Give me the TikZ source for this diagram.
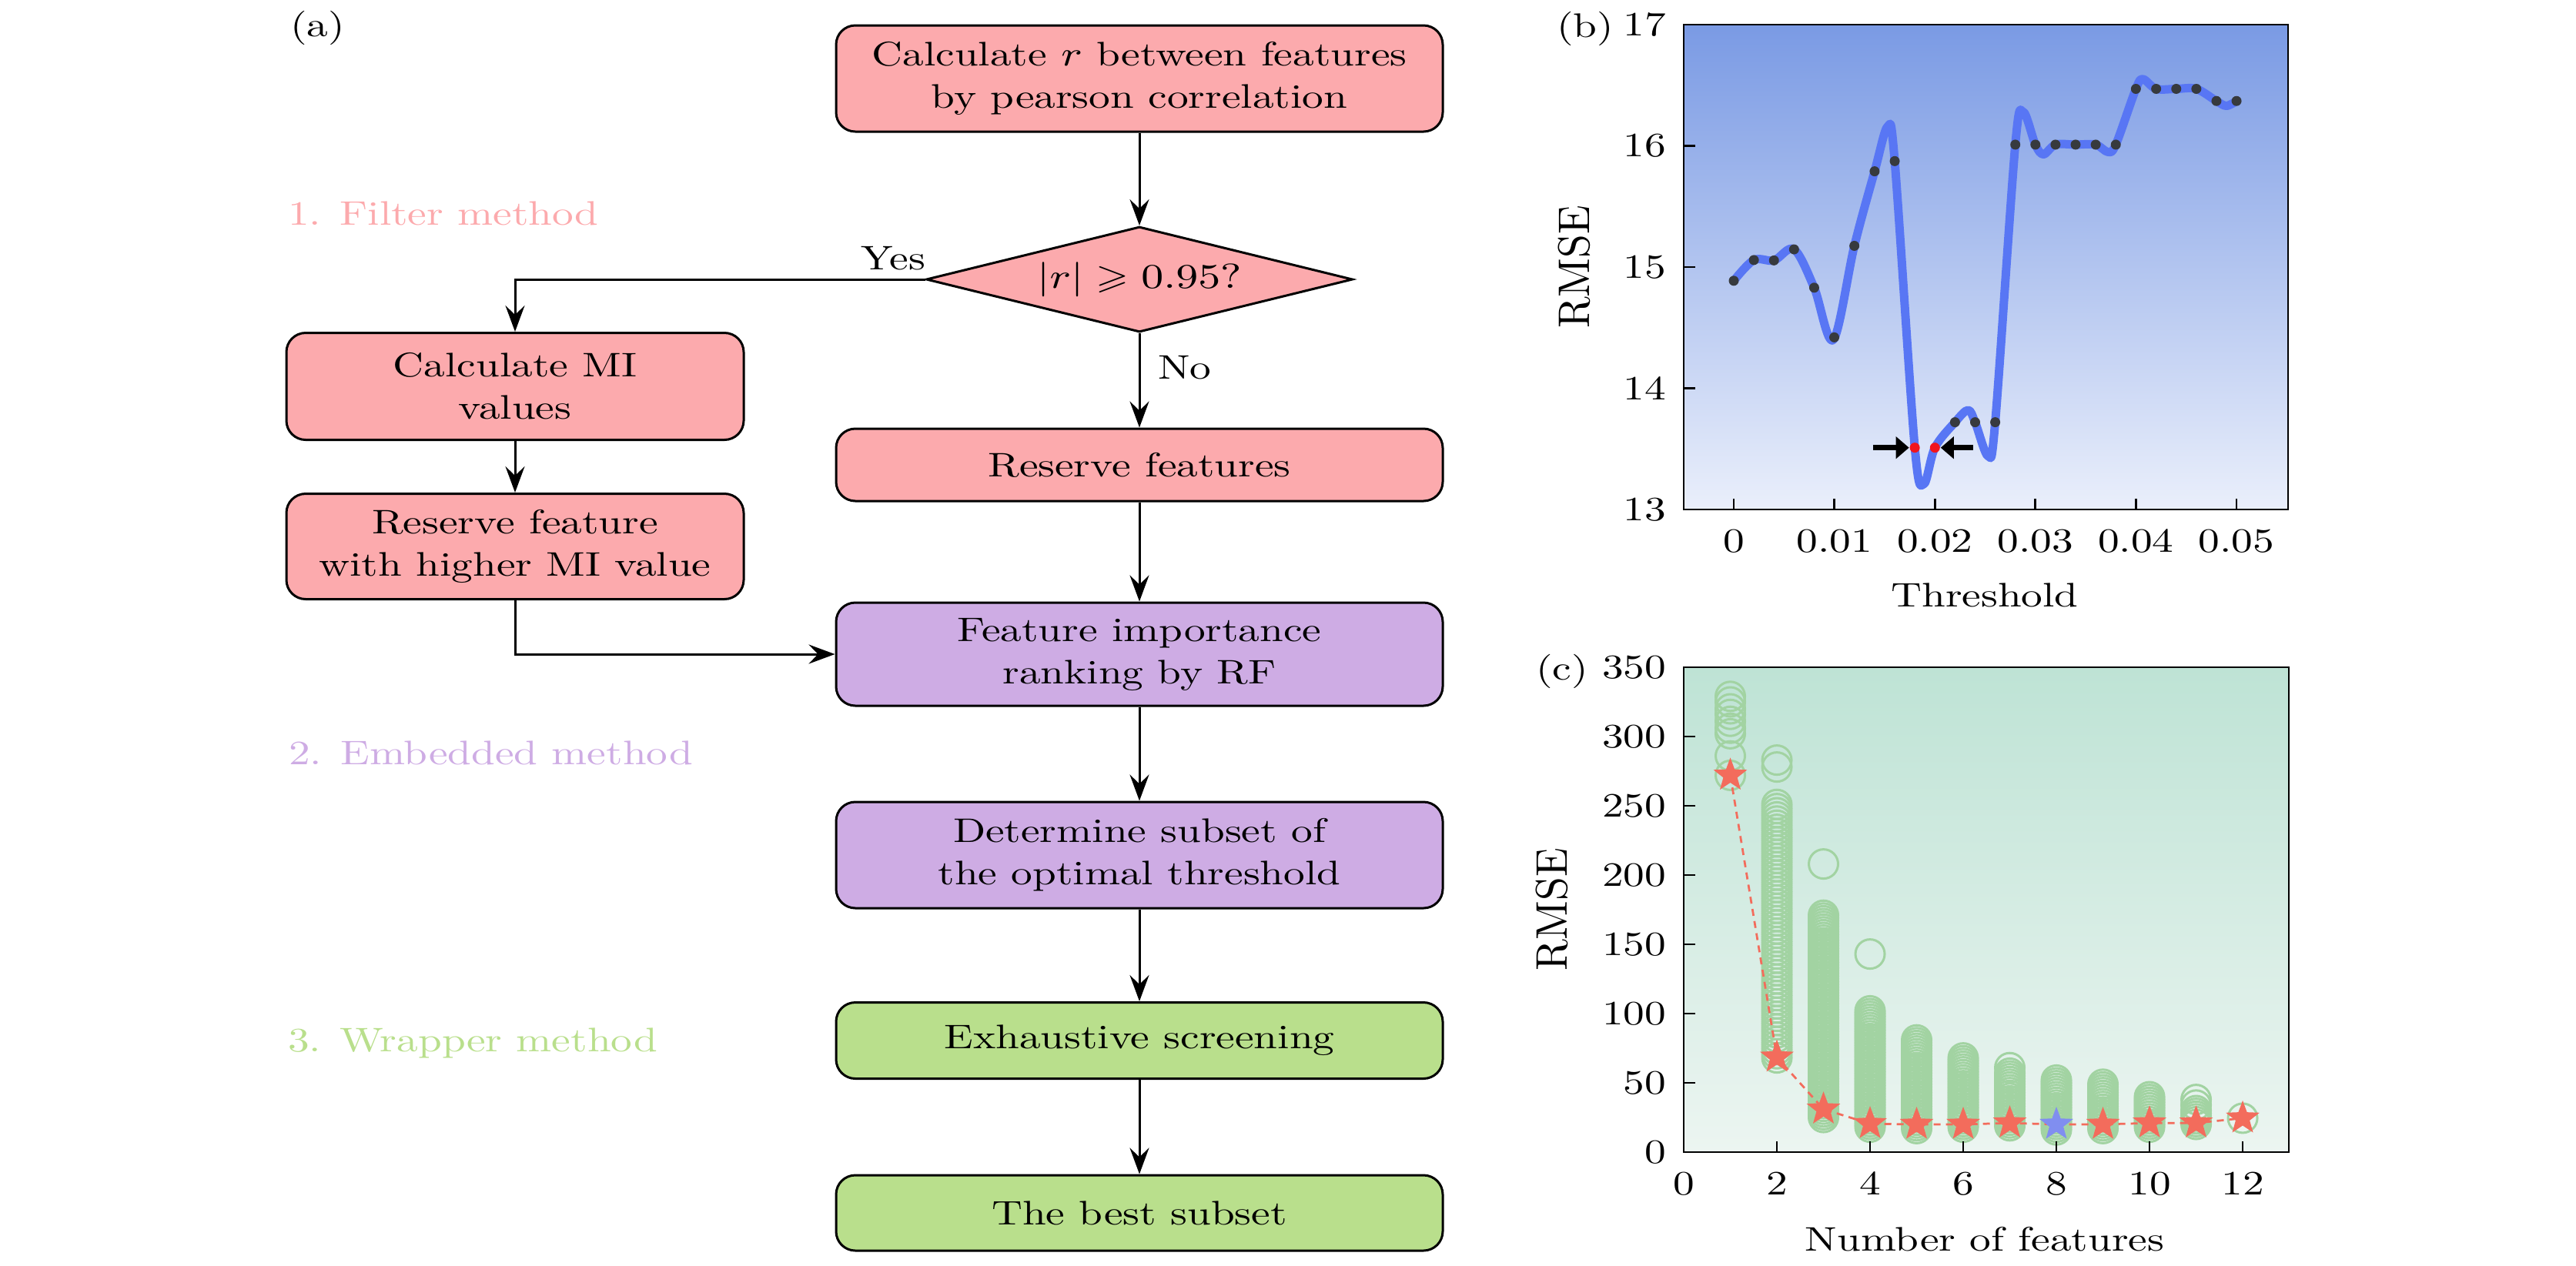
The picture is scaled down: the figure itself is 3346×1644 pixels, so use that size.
\documentclass[tikz,border=0pt]{standalone}
\usepackage{amssymb}
\usepackage[no-math]{fontspec}
\setmainfont{lmroman10}[Extension=.otf, UprightFont=*-regular, ItalicFont=*-italic, BoldFont=*-bold, FakeStretch=1.25]
\usepackage{graphicx}
\usetikzlibrary{shapes.geometric, arrows.meta}
\newcommand{\strm}[1]{\scalebox{1.25}[1]{$#1$}}
\definecolor{pinkc}{RGB}{252,170,173}
\definecolor{purpc}{RGB}{206,172,228}
\definecolor{greenc}{RGB}{185,223,140}
\definecolor{bTop}{RGB}{122,154,228}
\definecolor{bBot}{RGB}{234,239,251}
\definecolor{cTop}{RGB}{190,227,213}
\definecolor{cBot}{RGB}{236,245,241}
\definecolor{curvec}{RGB}{88,118,244}
\definecolor{dotc}{RGB}{55,58,62}
\definecolor{redd}{RGB}{240,20,30}
\definecolor{circc}{RGB}{162,211,162}
\definecolor{starr}{RGB}{243,108,92}
\definecolor{starb}{RGB}{128,142,240}
\begin{document}
\begin{tikzpicture}[x=0.2pt, y=-0.2pt, font=\fontsize{8.85pt}{11pt}\selectfont,
  box/.style={draw, line width=0.6pt, rounded corners=5pt, align=center, inner sep=1pt},
  wide/.style={box, minimum width=157.6pt},
  narrow/.style={box, minimum width=118.8pt},
  arr/.style={line width=0.6pt, -{Stealth[length=6.8pt, width=5pt, inset=2.4pt]}},
  lbl/.style={inner sep=0pt},
  frame/.style={line width=0.55pt},
  tick/.style={line width=0.55pt},
  curve/.style={line width=2.2pt, curvec, line cap=round, line join=round},
  circ/.style={circc, line width=0.6pt},
  redline/.style={starr, line width=0.55pt, dash pattern=on 1.8pt off 1.4pt},
  starmark/.style={star, star points=5, star point ratio=2.4, minimum size=9.2pt, inner sep=0pt, draw=none},
  barrow/.style={line width=1.4pt, -{Triangle[length=3.4pt, width=5.6pt]}}
]
\useasboundingbox (0,0) rectangle (3346,1644);

% ---------------- (a) flowchart ----------------
\node[lbl, anchor=base west] (la) at (376,47) {(a)};
\node[wide, fill=pinkc, minimum height=27.6pt] (b1) at (1480,102) {Calculate \strm{r} between features\\by pearson correlation};
\node[diamond, aspect=4.04, draw, line width=0.6pt, fill=pinkc, minimum width=110.8pt, minimum height=27.4pt, inner sep=0pt] (dia) at (1480,363) {\strm{|r| \geqslant 0.95?}};
\node[wide, fill=pinkc, minimum height=18.8pt] (rf) at (1480,604) {Reserve features};
\node[narrow, fill=pinkc, minimum height=27.8pt] (mi) at (669,502) {Calculate MI\\values};
\node[narrow, fill=pinkc, minimum height=27.4pt] (rmi) at (669,710) {Reserve feature\\with higher MI value};
\node[wide, fill=purpc, minimum height=26.8pt] (fi) at (1480,850) {Feature importance\\ranking by RF};
\node[wide, fill=purpc, minimum height=27.6pt] (det) at (1480,1111) {Determine subset of\\the optimal threshold};
\node[wide, fill=greenc, minimum height=19.8pt] (exh) at (1480,1352) {Exhaustive screening};
\node[wide, fill=greenc, minimum height=19.6pt] (best) at (1480,1576) {The best subset};

\draw[arr] (b1) -- (dia);
\draw[arr] (dia.west) -| (mi.north);
\draw[arr] (dia) -- (rf);
\draw[arr] (mi) -- (rmi);
\draw[arr] (rmi.south) |- (fi.west);
\draw[arr] (rf) -- (fi);
\draw[arr] (fi) -- (det);
\draw[arr] (det) -- (exh);
\draw[arr] (exh) -- (best);

\node[lbl, anchor=base east] (yes) at (1203,350) {Yes};
\node[lbl, anchor=base west] (no) at (1503,492) {No};
\node[lbl, anchor=base west, text=pinkc] (l1) at (373,292) {1. Filter method};
\node[lbl, anchor=base west, text=purpc] (l2) at (374,993) {2. Embedded method};
\node[lbl, anchor=base west, text=greenc] (l3) at (373,1366) {3. Wrapper method};

% ---------------- (b) threshold plot ----------------
\shade[top color=bTop, bottom color=bBot] (2187,32) rectangle (2972,662);
\begin{scope}[shift={(2252,662)}, x=2612pt, y=31.5pt]
  \draw[curve] plot[smooth, tension=0.55] coordinates {
    (0,1.887) (0.002,2.058) (0.004,2.055) (0.006,2.146) (0.008,1.83) (0.0099,1.40)
    (0.012,2.175) (0.014,2.79) (0.0153,3.16) (0.016,2.874) (0.018,0.51) (0.0189,0.21)
    (0.020,0.51) (0.022,0.72) (0.0233,0.82) (0.024,0.72) (0.0253,0.44) (0.026,0.72)
    (0.028,3.01) (0.0288,3.28) (0.030,3.01) (0.0308,2.93) (0.032,3.01) (0.034,3.01)
    (0.036,3.01) (0.0372,2.95) (0.038,3.01) (0.040,3.47) (0.0407,3.55) (0.042,3.47)
    (0.044,3.47) (0.046,3.47) (0.048,3.37) (0.049,3.33) (0.050,3.37)};
  \foreach \t/\v in {0/1.887, 0.002/2.058, 0.004/2.055, 0.006/2.146, 0.008/1.83, 0.010/1.42,
    0.012/2.175, 0.014/2.79, 0.016/2.874, 0.022/0.72, 0.024/0.72, 0.026/0.72,
    0.028/3.01, 0.030/3.01, 0.032/3.01, 0.034/3.01, 0.036/3.01, 0.038/3.01,
    0.040/3.47, 0.042/3.47, 0.044/3.47, 0.046/3.47, 0.048/3.37, 0.050/3.37}
    \fill[dotc] (\t,\v) circle[radius=1.3pt];
  \node[circle, fill=redd, inner sep=0pt, minimum size=2.6pt] (r1) at (0.018,0.51) {};
  \node[circle, fill=redd, inner sep=0pt, minimum size=2.6pt] (r2) at (0.020,0.51) {};
  \coordinate (ta) at (0.01386,0.51);
  \coordinate (tb) at (0.02381,0.51);
  \draw[barrow] (ta) -- (r1);
  \draw[barrow] (tb) -- (r2);
  % ticks and labels
  \foreach \v in {13,14,15,16,17} {
    \draw[tick] (-0.005,\v-13) -- ++(3pt,0pt);
    \node[lbl, anchor=east, xshift=-4.4pt] (by\v) at (-0.005,\v-13) {\v};
  }
  \foreach \t/\s in {0/0, 0.01/0.01, 0.02/0.02, 0.03/0.03, 0.04/0.04, 0.05/0.05} {
    \draw[tick] (\t,0) -- ++(0pt,2.8pt);
    \node[lbl, anchor=base, yshift=-11pt] (bx\s) at (\t,0) {\s};
  }
\end{scope}
\draw[frame] (2187,32) rectangle (2972,662);
\node[lbl, anchor=base west] (lb) at (2021,48) {(b)};
\node[lbl, rotate=90] (byl) at (2045,347) {\scalebox{1}[1.3]{RMSE}};
\node[lbl, anchor=base] (bxl) at (2578,788) {Threshold};

% ---------------- (c) number of features plot ----------------
\shade[top color=cTop, bottom color=cBot] (2187,867) rectangle (2973,1497);
\begin{scope}[shift={(2187,1497)}, x=12.1pt, y=0.36pt]
  \foreach \v in {272,286,302,306,311,316,320,325,329} \draw[circ] (1,\v) circle[radius=3.8pt];
  \foreach \v in {68,71,...,251,278,283} \draw[circ] (2,\v) circle[radius=3.8pt];
  \foreach \v in {25,27,...,172,208} \draw[circ] (3,\v) circle[radius=3.8pt];
  \foreach \v in {18,20,...,102,143} \draw[circ] (4,\v) circle[radius=3.8pt];
  \foreach \v in {17,19,...,81} \draw[circ] (5,\v) circle[radius=3.8pt];
  \foreach \v in {18,20,...,68} \draw[circ] (6,\v) circle[radius=3.8pt];
  \foreach \v in {19,21,...,57,61} \draw[circ] (7,\v) circle[radius=3.8pt];
  \foreach \v in {16,18,...,53} \draw[circ] (8,\v) circle[radius=3.8pt];
  \foreach \v in {17,19,...,49} \draw[circ] (9,\v) circle[radius=3.8pt];
  \foreach \v in {18,20,...,40} \draw[circ] (10,\v) circle[radius=3.8pt];
  \foreach \v in {20,22,...,28,30,34,38} \draw[circ] (11,\v) circle[radius=3.8pt];
  \draw[circ] (12,24.5) circle[radius=3.8pt];
  \coordinate (p1) at (1,272);
  \coordinate (p2) at (2,68.5);
  \coordinate (p3) at (3,31);
  \coordinate (p4) at (4,20.5);
  \coordinate (p5) at (5,20);
  \coordinate (p6) at (6,20);
  \coordinate (p7) at (7,21);
  \coordinate (p8) at (8,20);
  \coordinate (p9) at (9,20);
  \coordinate (p10) at (10,21);
  \coordinate (p11) at (11,21);
  \coordinate (p12) at (12,24.5);
  \draw[redline] (p1) -- (p2) -- (p3) -- (p4) -- (p5) -- (p6) -- (p7) -- (p8) -- (p9) -- (p10) -- (p11) -- (p12);
  \foreach \i in {1,2,3,4,5,6,7,9,10,11,12} \node[starmark, fill=starr] (s\i) at (p\i) {};
  \node[starmark, fill=starb] (s8) at (p8) {};
  \foreach \v in {0,50,...,350} {
    \draw[tick] (0,\v) -- ++(3pt,0pt);
    \node[lbl, anchor=east, xshift=-4.4pt] (cy\v) at (0,\v) {\v};
  }
  \foreach \n in {0,2,...,12} {
    \draw[tick] (\n,0) -- ++(0pt,2.8pt);
    \node[lbl, anchor=base, yshift=-11pt] (cx\n) at (\n,0) {\n};
  }
\end{scope}
\draw[frame] (2187,867) rectangle (2973,1497);
\node[lbl, anchor=base west] (lc) at (1994,883) {(c)};
\node[lbl, rotate=90] (cyl) at (2016,1182) {\scalebox{1}[1.3]{RMSE}};
\node[lbl, anchor=base] (cxl) at (2578,1625) {Number of features};
\end{tikzpicture}
\end{document}
